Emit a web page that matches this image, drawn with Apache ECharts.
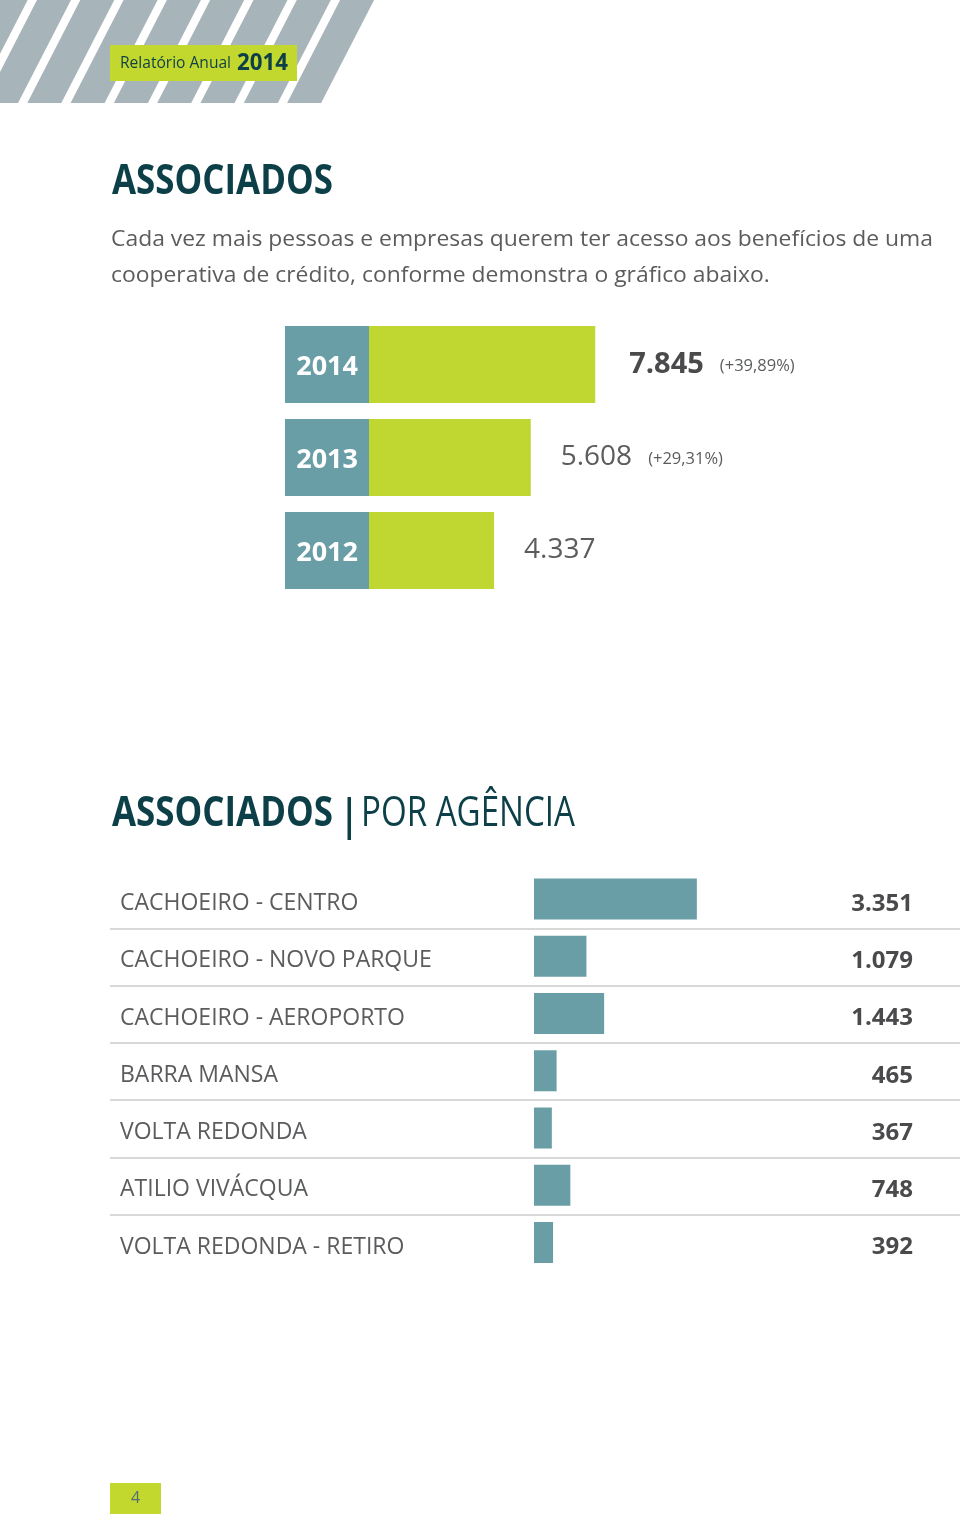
<!DOCTYPE html>
<html>
<head>
<meta charset="utf-8">
<script src="https://cdn.jsdelivr.net/npm/echarts@6/dist/echarts.min.js"></script>
<style>
html,body{margin:0;padding:0;background:#fff;}
#chart{width:960px;height:1521px;}
</style>
</head>
<body>
<div id="chart"></div>
<script>
// ---- data ----
const years = ['2014', '2013', '2012'];
const yearValues = [7845, 5608, 4337];
const yearGrowth = ['(+39,89%)', '(+29,31%)', ''];
const agencies = ['CACHOEIRO - CENTRO', 'CACHOEIRO - NOVO PARQUE', 'CACHOEIRO - AEROPORTO', 'BARRA MANSA', 'VOLTA REDONDA', 'ATILIO VIVÁCQUA', 'VOLTA REDONDA - RETIRO'];
const agencyValues = [3351, 1079, 1443, 465, 367, 748, 392];

const title = 'ASSOCIADOS';
const subtitle = 'POR AGÊNCIA';
const intro = ['Cada vez mais pessoas e empresas querem ter acesso aos benefícios de uma',
               'cooperativa de crédito, conforme demonstra o gráfico abaixo.'];
const badgeText = 'Relatório Anual';
const badgeYear = '2014';
const pageNo = '4';

// ---- helpers ----
const fmt = v => String(v).replace(/\B(?=(\d{3})+(?!\d))/g, '.');
const mctx = document.createElement('canvas').getContext('2d');
function fitScale(text, font, target) {
  mctx.font = font;
  return target / mctx.measureText(text).width;
}

const DARK = '#0c3f47';
const GREEN = '#bfd730';
const TEAL = '#6a9ea6';
const STRIPE = '#a7b4ba';
const TEXT = '#5b5c5e';
const FF = 'Open Sans';

// ---- decoration ----
const graphics = [];
for (let k = -1; k <= 7; k++) {
  const bl = -16 + 43.3 * k, br = bl + 34;
  graphics.push({
    type: 'polygon', silent: true,
    shape: { points: [[bl, 103], [br, 103], [br + 53, 0], [bl + 53, 0]] },
    style: { fill: STRIPE }
  });
}
graphics.push({ type: 'rect', shape: { x: 110, y: 45, width: 187, height: 36 }, style: { fill: '#c3d82e' } });
graphics.push({ type: 'text', x: 120, y: 63, style: { text: badgeText, font: '16px "' + FF + '"', fill: DARK, verticalAlign: 'middle' },
  scaleX: fitScale(badgeText, '16px "' + FF + '"', 111) });
graphics.push({ type: 'text', x: 237, y: 63, style: { text: badgeYear, font: 'bold 23px "' + FF + '"', fill: DARK, verticalAlign: 'middle' },
  scaleX: fitScale(badgeYear, 'bold 23px "' + FF + '"', 51) });

const titleFont = 'bold 42px "' + FF + '"';
const titleScale = fitScale(title, titleFont, 221);
graphics.push({ type: 'text', x: 112, y: 182, scaleX: titleScale, style: { text: title, font: titleFont, fill: DARK, verticalAlign: 'middle' } });

const introFont = '22px "' + FF + '"';
const introScale = fitScale(intro[0], introFont, 822);
graphics.push({ type: 'text', x: 111, y: 240, scaleX: introScale, style: { text: intro[0], font: introFont, fill: TEXT, verticalAlign: 'middle' } });
graphics.push({ type: 'text', x: 111, y: 276, scaleX: introScale, style: { text: intro[1], font: introFont, fill: TEXT, verticalAlign: 'middle' } });

graphics.push({ type: 'text', x: 112, y: 814, scaleX: titleScale, style: { text: title, font: titleFont, fill: DARK, verticalAlign: 'middle' } });
graphics.push({ type: 'rect', shape: { x: 347.5, y: 797, width: 3.5, height: 43 }, style: { fill: DARK } });
const subFont = '42px "' + FF + '"';
graphics.push({ type: 'text', x: 361, y: 814, scaleX: fitScale(subtitle, subFont, 214), style: { text: subtitle, font: subFont, fill: DARK, verticalAlign: 'middle' } });

graphics.push({ type: 'rect', shape: { x: 110, y: 1483, width: 51, height: 31 }, style: { fill: '#c3d82e' } });
graphics.push({ type: 'text', x: 135.5, y: 1498, style: { text: pageNo, font: '16px "' + FF + '"', fill: '#4f6f72', align: 'center', verticalAlign: 'middle' } });

// ---- chart ----
const chart = echarts.init(document.getElementById('chart'), null, { renderer: 'canvas' });
const option = {
  animation: false,
  backgroundColor: '#ffffff',
  grid: [
    { left: 369, top: 318, width: 288.4, height: 279 },
    { left: 534, top: 870.4, width: 243, height: 400.75 },
    { left: 110, top: 871, right: 0, height: 400.75 }
  ],
  xAxis: [
    { gridIndex: 0, type: 'value', min: 0, max: 10000, show: false },
    { gridIndex: 1, type: 'value', min: 0, max: 5000, show: false },
    { gridIndex: 2, type: 'value', min: 0, max: 1, show: false }
  ],
  yAxis: [
    {
      gridIndex: 0, type: 'category', data: years, inverse: true,
      axisLine: { show: false }, axisTick: { show: false }, splitLine: { show: false },
      axisLabel: {
        interval: 0, margin: 0, align: 'right',
        formatter: v => '{y|' + v + '}',
        rich: {
          y: {
            color: '#ffffff', fontFamily: FF, fontWeight: 'bold', fontSize: 27,
            backgroundColor: TEAL, width: 62, height: 72, padding: [5, 11, 0, 11], align: 'right'
          }
        }
      }
    },
    { gridIndex: 1, type: 'category', data: agencies, inverse: true, show: false },
    {
      gridIndex: 2, type: 'category', data: agencies, inverse: true,
      axisLine: { show: false }, axisTick: { show: false },
      axisLabel: {
        inside: true, margin: 10, interval: 0, align: 'left',
        formatter: v => '{a|' + v + '}',
        rich: { a: { color: TEXT, fontFamily: FF, fontSize: 23, padding: [8, 0, 0, 0] } }
      },
      splitLine: { show: true, showMinLine: false, showMaxLine: false, lineStyle: { color: '#cdcdcd', width: 1.5 } }
    },
    {
      gridIndex: 2, type: 'category', position: 'right', data: agencies, inverse: true,
      axisLine: { show: false }, axisTick: { show: false }, splitLine: { show: false },
      axisLabel: {
        inside: true, margin: 47, interval: 0, align: 'right',
        formatter: (v, i) => '{n|' + fmt(agencyValues[i]) + '}',
        rich: { n: { color: '#4a4a4c', fontFamily: FF, fontWeight: 'bold', fontSize: 24, padding: [9, 0, 0, 0] } }
      }
    }
  ],
  series: [
    {
      type: 'bar', xAxisIndex: 0, yAxisIndex: 0, barWidth: 77, silent: true,
      itemStyle: { color: GREEN },
      data: yearValues.map((v, i) => i === 0 ? { value: v, label: { distance: 34 } } : v),
      label: {
        show: true, position: 'right', distance: 30,
        formatter: p => {
          const i = p.dataIndex;
          const v = i === 0 ? '{vb|' + fmt(p.value) + '}' : '{v|' + fmt(p.value) + '}';
          return yearGrowth[i] ? v + '{p|' + yearGrowth[i] + '}' : v;
        },
        rich: {
          vb: { fontFamily: FF, fontWeight: 'bold', fontSize: 29, color: '#4a4a4c' },
          v: { fontFamily: FF, fontSize: 28, color: TEXT },
          p: { fontFamily: FF, fontSize: 16.5, color: TEXT, padding: [4, 0, 0, 16] }
        }
      }
    },
    {
      type: 'bar', xAxisIndex: 1, yAxisIndex: 1, barWidth: 41, silent: true,
      itemStyle: { color: TEAL },
      data: agencyValues
    }
  ],
  graphic: graphics
};
chart.setOption(option);
</script>
</body>
</html>
